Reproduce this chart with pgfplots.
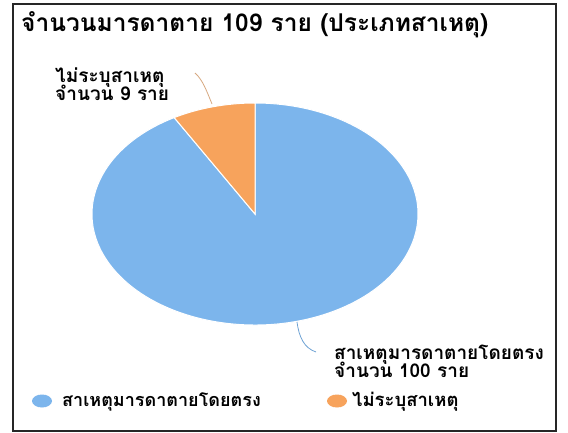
\documentclass[border=0pt]{standalone}
\usepackage{pgfplots}
\pgfplotsset{compat=1.18}
\usepackage{pgfplotstable}
\usepackage{fontspec}
\newfontfamily\thaifont[Script=Thai]{Loma}
\definecolor{hcblue}{HTML}{7CB5EC}
\definecolor{hcorange}{HTML}{F7A35C}

\pgfplotstableread{
cause value
direct 100
unknown 9
}\piedata
\pgfplotstablegetelem{0}{value}\of\piedata \edef\vA{\pgfplotsretval}
\pgfplotstablegetelem{1}{value}\of\piedata \edef\vB{\pgfplotsretval}
\pgfmathsetmacro\total{\vA+\vB}
\pgfmathsetmacro\angB{90+360*\vB/\total}

\begin{document}
\begin{tikzpicture}[x=1pt,y=1pt]
\useasboundingbox (0,0) rectangle (568,432);
\fill[white] (0,0) rectangle (568,432);
% frame
\draw[line width=1.6pt, black!85] (13,1) rectangle (556,428);
% title
\node[anchor=base west, inner sep=0pt] at (21,400) {\thaifont\bfseries\fontsize{24.5}{28}\selectfont จำนวนมารดาตาย 109 ราย (ประเภทสาเหตุ)};

\begin{axis}[at={(255pt,218pt)}, anchor=center, scale only axis,
  width=326pt, height=222pt, xmin=-1, xmax=1, ymin=-1, ymax=1,
  hide axis, clip=false]
  \fill[hcblue, draw=white, line width=1pt] (axis cs:0,0) -- (axis cs:{cos(\angB)},{sin(\angB)})
     arc[start angle=\angB, end angle=450, x radius=163pt, y radius=111pt] -- cycle;
  \fill[hcorange, draw=white, line width=1pt] (axis cs:0,0) -- (axis cs:0,1)
     arc[start angle=90, end angle=\angB, x radius=163pt, y radius=111pt] -- cycle;
\end{axis}

% connectors
\draw[hcorange!80!black!70, line width=0.8pt] (212,328) .. controls (207,340) and (203,352) .. (195,359);
\draw[hcblue!90!black, line width=0.8pt] (297,110) .. controls (299,95) and (304,84) .. (316,80);

% data labels
\node[anchor=base west, inner sep=0pt] at (55,349) {\thaifont\bfseries\fontsize{19}{20}\selectfont ไม่ระบุสาเหตุ};
\node[anchor=base west, inner sep=0pt] at (55,331) {\thaifont\bfseries\fontsize{19}{20}\selectfont จำนวน 9 ราย};
\node[anchor=base west, inner sep=0pt] at (334,73) {\thaifont\bfseries\fontsize{19}{20}\selectfont สาเหตุมารดาตายโดยตรง};
\node[anchor=base west, inner sep=0pt] at (334,55) {\thaifont\bfseries\fontsize{19}{20}\selectfont จำนวน 100 ราย};

% legend
\fill[hcblue] (42,31) ellipse[x radius=10, y radius=6.5];
\node[anchor=base west, inner sep=0pt] at (62,25.5) {\thaifont\bfseries\fontsize{18}{20}\selectfont สาเหตุมารดาตายโดยตรง};
\fill[hcorange] (337,31) ellipse[x radius=10, y radius=6.5];
\node[anchor=base west, inner sep=0pt] at (352,25.5) {\thaifont\bfseries\fontsize{18.5}{20}\selectfont ไม่ระบุสาเหตุ};
\end{tikzpicture}
\end{document}
